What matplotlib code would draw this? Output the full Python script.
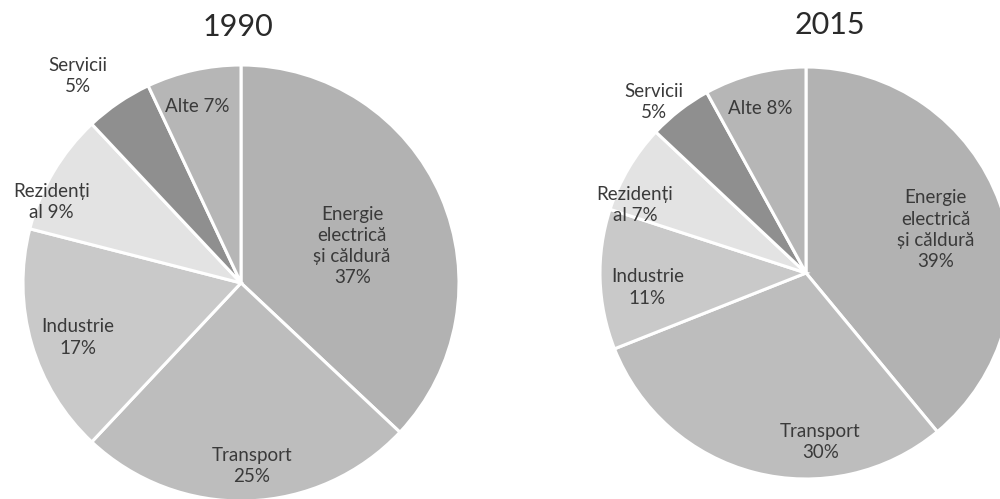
import matplotlib
matplotlib.use('Agg')
import matplotlib.pyplot as plt

sectors = ['Energie\nelectrică\nși căldură', 'Transport', 'Industrie',
           'Rezidenți\nal', 'Servicii\n', 'Alte']
share_1990 = [37, 25, 17, 9, 5, 7]
share_2015 = [39, 30, 11, 7, 5, 8]
years = ['1990', '2015']

colors = ['#b2b2b2', '#bdbdbd', '#c9c9c9', '#e3e3e3', '#8f8f8f', '#b6b6b6']

# label offsets from pie centre, in radius units
offs_1990 = [(0.51, 0.17), (0.05, -0.84), (-0.75, -0.25), (-0.87, 0.37), (-0.75, 0.95), (-0.20, 0.81)]
offs_2015 = [(0.63, 0.21), (0.07, -0.82), (-0.77, -0.07), (-0.83, 0.33), (-0.74, 0.83), (-0.22, 0.80)]

plt.rcParams['font.family'] = ['Lato', 'DejaVu Sans']

fig = plt.figure(figsize=(10, 4.99), dpi=100)
ax = fig.add_axes([0, 0, 1, 1])

pies = [
    (years[0], share_1990, offs_1990, (241, 216), 218, (238, 472)),
    (years[1], share_2015, offs_2015, (806, 226), 206, (830, 474)),
]

for year, vals, offs, center, r, tpos in pies:
    ax.pie(vals, colors=colors, startangle=90, counterclock=False,
           center=center, radius=r, frame=True,
           wedgeprops=dict(edgecolor='white', linewidth=2.2))
    for name, v, (dx, dy) in zip(sectors, vals, offs):
        if name.endswith('\nal'):
            txt = name + ' %d%%' % v
        elif name == 'Alte':
            txt = 'Alte %d%%' % v
        else:
            txt = name.rstrip('\n') + '\n%d%%' % v
        ax.text(center[0] + dx * r, center[1] + dy * r, txt, ha='center', va='center',
                fontsize=13.5, color='#3a3a3a', linespacing=1.3)
    ax.text(tpos[0], tpos[1], year, ha='center', va='center', fontsize=22, color='#2a2a2a')

ax.set_xlim(0, 1000)
ax.set_ylim(0, 499)
ax.set_aspect('equal')
ax.axis('off')

fig.savefig('out.png', dpi=100, facecolor='white')
